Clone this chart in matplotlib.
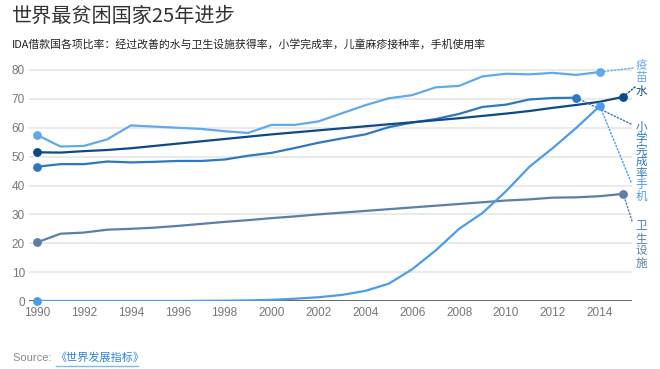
import matplotlib
matplotlib.use("Agg")
import matplotlib.pyplot as plt
from matplotlib.lines import Line2D

plt.rcParams['font.family'] = ['Noto Sans CJK SC', 'DejaVu Sans']

vaccine_years = list(range(1990, 2015))
vaccine = [57.5, 53.5, 53.7, 56.0, 60.8, 60.4, 60.0, 59.6, 58.8, 58.2, 61.0, 61.0, 62.2,
           65.0, 67.8, 70.2, 71.3, 74.0, 74.5, 77.8, 78.7, 78.5, 79.0, 78.3, 79.3]

water_years = list(range(1990, 2016))
water = [51.5, 51.4, 51.9, 52.3, 52.9, 53.7, 54.5, 55.3, 56.1, 56.9, 57.7, 58.4, 59.1,
         59.8, 60.5, 61.2, 61.9, 62.6, 63.3, 64.1, 64.9, 65.8, 66.9, 67.9, 69.0, 70.7]

primary_years = list(range(1990, 2014))
primary = [46.5, 47.4, 47.4, 48.3, 48.0, 48.2, 48.5, 48.5, 49.0, 50.3, 51.3, 53.0, 54.8,
           56.3, 57.7, 60.2, 61.8, 63.0, 64.8, 67.2, 68.0, 69.8, 70.3, 70.4]

mobile_years = list(range(1990, 2015))
mobile = [0.0, 0.0, 0.0, 0.0, 0.0, 0.0, 0.0, 0.05, 0.1, 0.2, 0.4, 0.8, 1.3,
          2.1, 3.5, 6.0, 11.0, 17.5, 25.0, 30.5, 38.0, 46.5, 53.0, 60.0, 67.5]

sanit_years = list(range(1990, 2016))
sanitation = [20.3, 23.3, 23.7, 24.7, 25.0, 25.4, 26.0, 26.7, 27.4, 28.0, 28.7, 29.3, 30.0,
              30.6, 31.2, 31.8, 32.4, 33.0, 33.6, 34.2, 34.8, 35.2, 35.8, 35.9, 36.3, 37.1]

x_ticks = list(range(1990, 2015, 2))
y_ticks = [0, 10, 20, 30, 40, 50, 60, 70, 80]

title = "世界最贫困国家25年进步"
subtitle = "IDA借款国各项比率：经过改善的水与卫生设施获得率，小学完成率，儿童麻疹接种率，手机使用率"

c_vac = "#62a8ec"
c_mob = "#4a9cec"
c_pri = "#2f78be"
c_wat = "#0c4a88"
c_san = "#5b7fa8"

W, H = 660, 369
fig = plt.figure(figsize=(6.6, 3.69), dpi=100)

ax_l, ax_r, ax_b, ax_t = 29, 632, 301, 62
ax = fig.add_axes([ax_l / W, 1 - ax_b / H, (ax_r - ax_l) / W, (ax_b - ax_t) / H])

px_per_year = 23.45
x0_px = 37
ax.set_xlim(1990 - (x0_px - ax_l) / px_per_year, 1990 + (ax_r - x0_px) / px_per_year)
px_per_unit = (301 - 70) / 80
ax.set_ylim(0, (ax_b - ax_t) / px_per_unit)

for s in ax.spines.values():
    s.set_visible(False)
for yv in y_ticks[1:]:
    ax.axhline(yv, color="#e8e8e8", lw=1.3, zorder=0)
ax.axhline(0, color="#5a5a5a", lw=1.3, zorder=1)

series = [
    (vaccine_years, vaccine, c_vac),
    (sanit_years, sanitation, c_san),
    (primary_years, primary, c_pri),
    (water_years, water, c_wat),
    (mobile_years, mobile, c_mob),
]
for xs, ys, c in series:
    ax.plot(xs, ys, color=c, lw=1.6, zorder=3, solid_capstyle='round')
    ax.plot([xs[0], xs[-1]], [ys[0], ys[-1]], 'o', color=c, ms=5.3, zorder=4, clip_on=False)

ax.set_xticks(x_ticks)
ax.set_xticklabels([str(v) for v in x_ticks], fontfamily=['Liberation Sans', 'DejaVu Sans'],
                   fontsize=8.5, color="#777777")
ax.set_yticks(y_ticks)
ax.set_yticklabels([str(v) for v in y_ticks], fontfamily=['Liberation Sans', 'DejaVu Sans'],
                   fontsize=8.5, color="#777777")
ax.tick_params(axis='x', length=0, pad=4)
ax.tick_params(axis='y', length=0, pad=3)

def fx(x):
    return x / W

def fy(y):
    return 1 - y / H

fig.text(fx(12), fy(16), title, fontsize=14.5, color="#333333", va='center', ha='left')
fig.text(fx(12), fy(44), subtitle, fontsize=7.8, color="#222222", va='center', ha='left')

# vertical labels
def vlabel(text, x, y_first, step, color):
    for i, ch in enumerate(text):
        fig.text(fx(x), fy(y_first + i * step), ch, fontsize=8.4, color=color,
                 ha='center', va='center')

vlabel("疫苗", 641, 66, 11.5, c_vac)
vlabel("水", 641, 91, 12, c_wat)
vlabel("小学完成率", 641, 127, 11.5, c_pri)
vlabel("手机", 641, 185, 11.5, c_mob)
vlabel("卫生设施", 641, 226, 12.5, c_san)

# dotted connectors
def connector(xd, yd, xpx, ypx, color):
    ax.annotate('', xy=(xd, yd), xycoords='data',
                xytext=(xpx, H - ypx), textcoords='figure pixels',
                arrowprops=dict(arrowstyle='-', color=color, lw=1.0, linestyle=(0, (1, 1.5)),
                                shrinkA=0, shrinkB=0))

connector(vaccine_years[-1], vaccine[-1], 633, 68, c_vac)
connector(water_years[-1], water[-1], 635, 87, c_wat)
connector(primary_years[-1], primary[-1], 631, 124, c_pri)
connector(mobile_years[-1], mobile[-1], 631, 182, c_mob)
connector(sanit_years[-1], sanitation[-1], 632, 221, c_san)

# source
fig.text(fx(13), fy(358), "Source: ", fontsize=8, color="#8a8a8a", va='center', ha='left',
         fontfamily=['Liberation Sans', 'DejaVu Sans'])
fig.text(fx(55), fy(358), "《世界发展指标》", fontsize=8, color="#2b86d3", va='center', ha='left')
fig.add_artist(Line2D([fx(56), fx(138)], [fy(366), fy(366)], color="#7fbde8", lw=1.0))

fig.savefig("out.png", dpi=100)
